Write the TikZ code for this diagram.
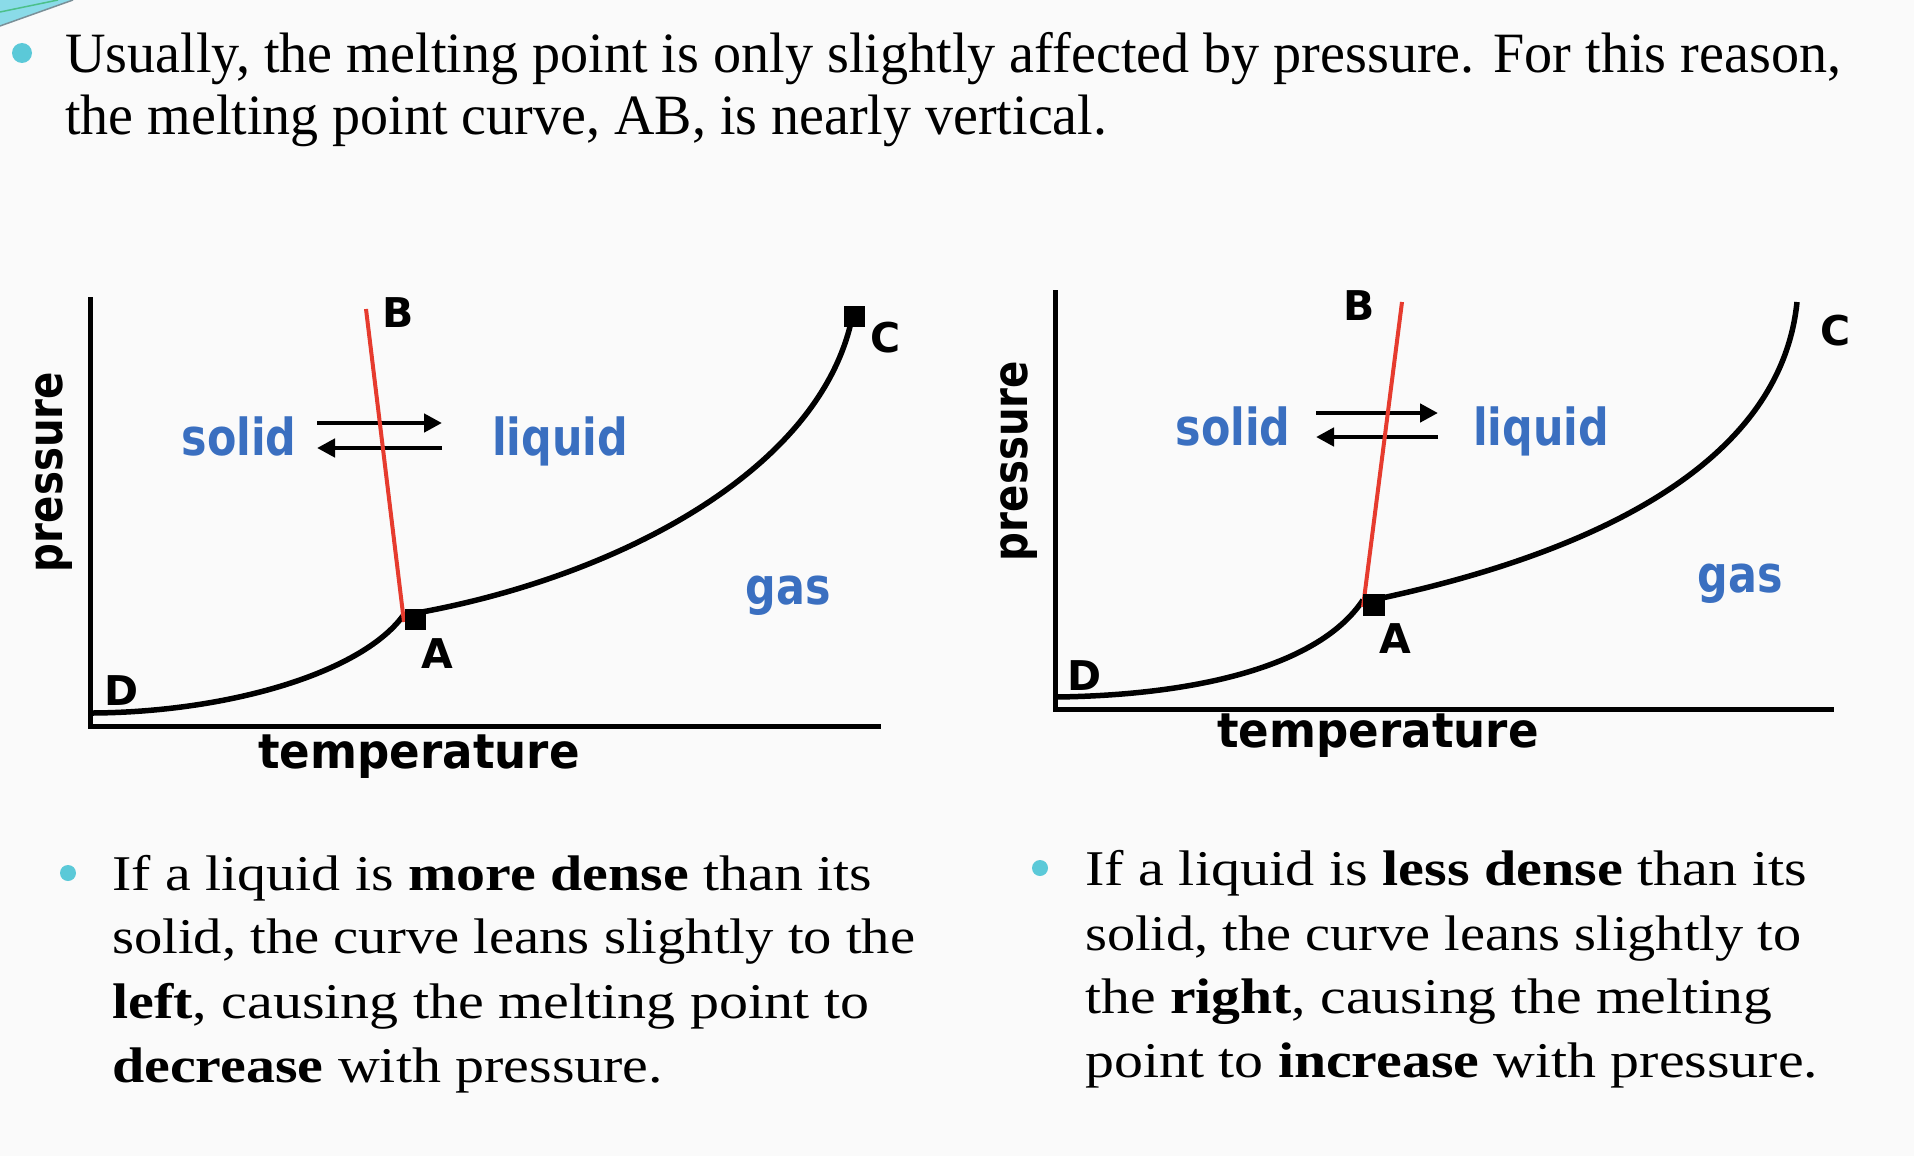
\documentclass[tikz,border=0pt]{standalone}
\usepackage{fontspec}
\usepackage{graphicx}
\setmainfont{Liberation Serif}
\newfontfamily\lblfont{DejaVu Sans}
\usetikzlibrary{arrows.meta}
\definecolor{bgcol}{HTML}{FAFAFA}
\definecolor{lblblue}{HTML}{3A6FC0}
\definecolor{meltred}{HTML}{E63B2E}
\definecolor{bulletcyan}{HTML}{5BC9D8}
\definecolor{decocyan}{HTML}{8ADBE8}
\definecolor{decogreen}{HTML}{4CC08A}
\definecolor{decogray}{HTML}{7A9098}
\newcommand{\fitw}[2]{\resizebox{#1}{\height}{#2}}
\newcommand{\sqz}[1]{\scalebox{0.84}[1]{#1}}
\begin{document}
\begin{tikzpicture}[x=1pt,y=-1pt,
  titletext/.style={font=\fontsize{57}{62}\selectfont, anchor=base west, inner sep=0pt},
  bodytext/.style={font=\fontsize{50}{64}\selectfont, anchor=base west, inner sep=0pt},
  phase/.style={font=\lblfont\bfseries\fontsize{51}{51}\selectfont, text=lblblue, anchor=base, inner sep=0pt},
  axislabel/.style={font=\lblfont\bfseries\fontsize{48}{48}\selectfont, anchor=base, inner sep=0pt},
  ptlabel/.style={font=\lblfont\bfseries\fontsize{41}{41}\selectfont, anchor=base, inner sep=0pt},
  axisline/.style={line width=5pt},
  phasecurve/.style={line width=5.5pt},
  meltline/.style={line width=4pt, draw=meltred},
  eqarrow/.style={line width=4.5pt, -{Triangle[length=18pt,width=18pt]}},
  pointmark/.style={fill=black, minimum size=21pt, inner sep=0pt},
  bulletdot/.style={circle, fill=bulletcyan, inner sep=0pt}
]
% background
\fill[bgcol] (0,0) rectangle (1914,1156);
\useasboundingbox (0,0) rectangle (1914,1156);
% decoration top-left
\fill[decocyan] (0,0) -- (73,0) -- (0,26) -- cycle;
\draw[decogray, line width=1.5pt] (0,26) -- (73,0);
\draw[decogreen, line width=1.5pt] (0,12) -- (58,0);

% title
\node[bulletdot, minimum size=20pt] (b0) at (22,53) {};
\node[titletext] (t1) at (65,73) {\fitw{1776pt}{Usually, the melting point is only slightly affected by pressure. For this reason,}};
\node[titletext] (t2) at (65,135) {\fitw{1042pt}{the melting point curve, AB, is nearly vertical.}};

% ================= LEFT DIAGRAM =================
\coordinate (yLtop) at (90,297);
\coordinate (xLend) at (881,726);
\draw[axisline] (yLtop) |- (xLend);
\node[axislabel, rotate=90] (pL) at (62,472) {\sqz{pressure}};
\node[axislabel] (tL) at (419,768) {\scalebox{0.94}[1]{temperature}};

\coordinate (DLs) at (93,713);
\coordinate (ALw) at (405,613);
\coordinate (ALe) at (422,612);
\coordinate (CLs) at (852,318);
\coordinate (BLtop) at (366,309);
\coordinate (BLbot) at (404,622);
\draw[phasecurve] (DLs) .. controls (230,712) and (365,672) .. (ALw);
\draw[phasecurve] (ALe) .. controls (620,575) and (820,470) .. (CLs);

\node[phase] (solidL) at (239,455) {\sqz{solid}};
\node[phase] (liquidL) at (560,455) {\sqz{liquid}};
\node[phase] (gasL) at (788,604) {\sqz{gas}};
\coordinate (aL1s) at (317,423);
\coordinate (aL1e) at (442,423);
\coordinate (aL2s) at (442,448);
\coordinate (aL2e) at (317,448);
\draw[eqarrow] (aL1s) -- (aL1e);
\draw[eqarrow] (aL2s) -- (aL2e);

\draw[meltline] (BLtop) -- (BLbot);
\node[pointmark] (ptAL) at (415,619) {};
\node[pointmark] (ptCL) at (854,316) {};

\node[ptlabel] (labBL) at (398,327) {B};
\node[ptlabel] (labAL) at (437,668) {A};
\node[ptlabel] (labCL) at (886,352) {C};
\node[ptlabel] (labDL) at (122,705) {D};

% ================= RIGHT DIAGRAM =================
\coordinate (yRtop) at (1055,290);
\coordinate (xRend) at (1834,709);
\draw[axisline] (yRtop) |- (xRend);
\node[axislabel, rotate=90] (pR) at (1027,461) {\sqz{pressure}};
\node[axislabel] (tR) at (1378,747) {\scalebox{0.94}[1]{temperature}};

\coordinate (DRs) at (1057,697);
\coordinate (ARw) at (1363,600);
\coordinate (ARe) at (1382,598);
\coordinate (CRe) at (1797,302);
\coordinate (BRtop) at (1402,302);
\coordinate (BRbot) at (1363,607);
\draw[phasecurve] (DRs) .. controls (1200,695) and (1320,665) .. (ARw);
\draw[phasecurve] (ARe) .. controls (1580,555) and (1780,470) .. (CRe);

\node[phase] (solidR) at (1233,445) {\sqz{solid}};
\node[phase] (liquidR) at (1541,445) {\sqz{liquid}};
\node[phase] (gasR) at (1740,592) {\sqz{gas}};
\coordinate (aR1s) at (1316,413);
\coordinate (aR1e) at (1438,413);
\coordinate (aR2s) at (1438,437);
\coordinate (aR2e) at (1316,437);
\draw[eqarrow] (aR1s) -- (aR1e);
\draw[eqarrow] (aR2s) -- (aR2e);

\draw[meltline] (BRtop) -- (BRbot);
\node[pointmark, minimum size=22pt] (ptAR) at (1374,605) {};

\node[ptlabel] (labBR) at (1359,320) {B};
\node[ptlabel] (labAR) at (1395,653) {A};
\node[ptlabel] (labCR) at (1836,345) {C};
\node[ptlabel] (labDR) at (1085,690) {D};

% ================= BOTTOM TEXT =================
\node[bulletdot, minimum size=16pt] (b1) at (68,873) {};
\node[bodytext] (bl1) at (112,890) {\fitw{760pt}{If a liquid is \textbf{more dense} than its}};
\node[bodytext] (bl2) at (112,953) {\fitw{803pt}{solid, the curve leans slightly to the}};
\node[bodytext] (bl3) at (112,1018) {\fitw{757pt}{\textbf{left}, causing the melting point to}};
\node[bodytext] (bl4) at (112,1082) {\fitw{551pt}{\textbf{decrease} with pressure.}};

\node[bulletdot, minimum size=16pt] (b2) at (1040,868) {};
\node[bodytext] (br1) at (1085,885) {\fitw{722pt}{If a liquid is \textbf{less dense} than its}};
\node[bodytext] (br2) at (1085,950) {\fitw{716pt}{solid, the curve leans slightly to}};
\node[bodytext] (br3) at (1085,1013) {\fitw{687pt}{the \textbf{right}, causing the melting}};
\node[bodytext] (br4) at (1085,1077) {\fitw{733pt}{point to \textbf{increase} with pressure.}};
\end{tikzpicture}
\end{document}
